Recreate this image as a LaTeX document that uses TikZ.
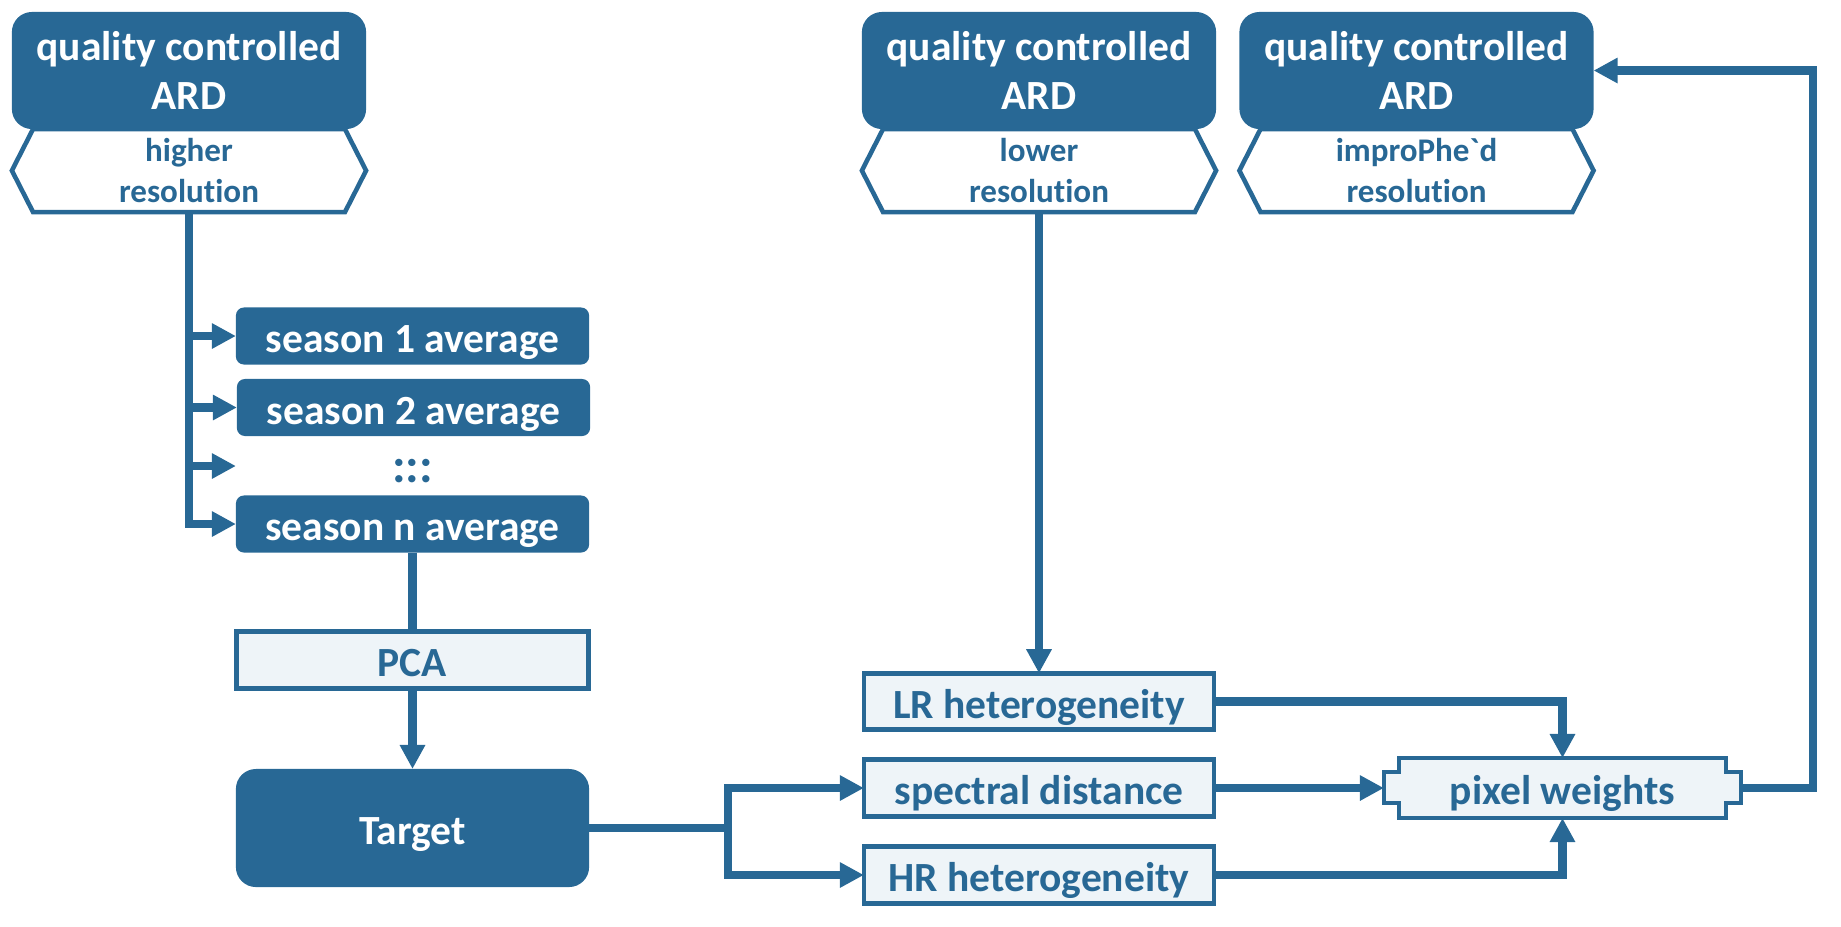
\documentclass[tikz,border=0pt]{standalone}
\usepackage{fontspec}
\setmainfont{Carlito}[Ligatures=NoCommon]
\usepackage{tikz}
\usetikzlibrary{arrows.meta,positioning,shapes.symbols}
\definecolor{ardblue}{RGB}{40,104,149}
\definecolor{ardpale}{RGB}{238,244,248}

\begin{document}
\begin{tikzpicture}[x=0.01cm,y=-0.01cm,->,>={Triangle[length=0.24cm,width=0.24cm]},line width=2.3pt,color=ardblue]
        \tikzstyle{every node}=[outer sep=0pt,inner sep=0pt,font=\bfseries\fontsize{11.8}{14}\selectfont]
        \tikzstyle{ard}=[rectangle,rounded corners=0.2cm,fill=ardblue,text=white,align=center,minimum width=3.54cm,minimum height=1.17cm]
        \tikzstyle{res}=[signal,signal to=west and east,signal pointer angle=126,draw=ardblue,fill=white,line width=1.3pt,text=ardblue,align=center,minimum width=3.54cm,minimum height=0.83cm,font=\bfseries\fontsize{9.4}{11.5}\selectfont]
        \tikzstyle{line}=[text height=10.5pt,text depth=1pt]
        \tikzstyle{season}=[line,rectangle,rounded corners=0.08cm,fill=ardblue,text=white,minimum width=3.53cm,minimum height=0.57cm]
        \tikzstyle{proc}=[line,rectangle,draw=ardblue,fill=ardpale,line width=1.3pt,text=ardblue,minimum width=3.50cm,minimum height=0.565cm]
        \useasboundingbox (0,0) rectangle (1841,926);

        % inputs
        \node[ard]                      (ard1) at (189,70.5)    {quality controlled\\ARD};
        \node[res]                      (res1) [below=0pt of ard1] {higher\\resolution};
        \node[ard]                      (ard2) at (1039,70.5)   {quality controlled\\ARD};
        \node[res]                      (res2) [below=0pt of ard2] {lower\\resolution};
        \node[ard]                      (ard3) at (1416.5,70.5) {quality controlled\\ARD};
        \node[res]                      (res3) [below=0pt of ard3] {impro\-Phe\textasciigrave d\\resolution};

        % seasonal averages
        \node[season]                   (s1) at (412.5,336)     {season 1 average};
        \node[season]                   (s2) at (413.5,407.5)   {season 2 average};
        \node[line,text=ardblue,font=\bfseries\fontsize{14}{14}\selectfont] (dots) at (412.5,466) {:::};
        \node[season]                   (sn) at (412.5,524)     {season n average};
        \node[proc,minimum width=3.52cm] (pca) at (412.5,660)   {PCA};
        \node[season,rounded corners=0.2cm,minimum height=1.18cm] (target) at (412.5,828) {Target};

        % weighting
        \node[proc]                     (lr) at (1039,701.5)    {LR heterogeneity};
        \node[proc]                     (spec) at (1039,788)    {spectral distance};
        \node[proc]                     (hr) at (1039,875)      {HR heterogeneity};
        \node[proc,draw=none,minimum width=3.27cm,minimum height=0.6cm] (pw) at (1562.5,788) {pixel weights};
        \fill[ardpale] ([shift={(-15,-15.5)}]pw.west) rectangle ([shift={(0,15.5)}]pw.west)
                       ([shift={(0,-15.5)}]pw.east) rectangle ([shift={(15,15.5)}]pw.east);
        \draw[-,line width=1.3pt] (pw.north west) -- (pw.north east) -- ++(0,14) -- ++(15,0) -- ++(0,31) -- ++(-15,0)
                -- (pw.south east) -- (pw.south west) -- ++(0,-15) -- ++(-15,0) -- ++(0,-31) -- ++(15,0) -- cycle;

        \coordinate (dotsin) at (s1.west |- dots);
        \coordinate (fork) at (728,828);
        \coordinate (pwin) at ([xshift=-0.15cm]pw.west);
        \coordinate (pwout) at ([xshift=0.15cm]pw.east);

        \draw (res1.south) |- (sn.west);
        \path   (res1.south |- s1.west) edge (s1.west)
                (res1.south |- s2.west) edge (s2.west)
                (res1.south |- dots)    edge (dotsin)
                (sn.south)              edge [-] (pca.north)
                (pca.south)             edge (target.north)
                (target.east)           edge [-] (fork)
                (res2.south)            edge (lr.north)
                (spec.east)             edge (pwin);
        \draw (fork) |- (spec.west);
        \draw (fork) |- (hr.west);
        \draw (lr.east) -| (pw.north);
        \draw (hr.east) -| (pw.south);
        \draw (pwout) -- ++(72,0) |- (ard3.east);
    \end{tikzpicture}
\end{document}
